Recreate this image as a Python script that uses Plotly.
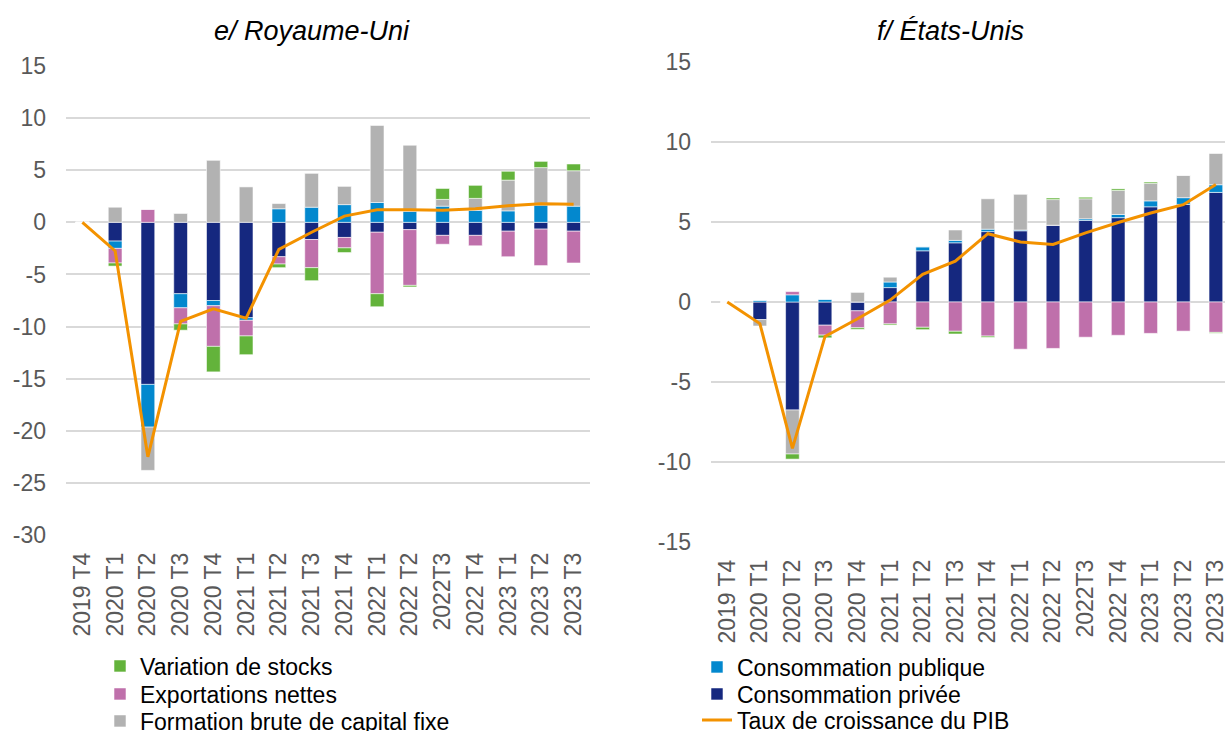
import plotly.graph_objects as go

# Quarters shown on both panels
quarters = ["2019 T4", "2020 T1", "2020 T2", "2020 T3", "2020 T4",
            "2021 T1", "2021 T2", "2021 T3", "2021 T4", "2022 T1",
            "2022 T2", "2022T3", "2022 T4", "2023 T1", "2023 T2", "2023 T3"]

# Y tick values for each panel
uk_ticks = [15, 10, 5, 0, -5, -10, -15, -20, -25, -30]
us_ticks = [15, 10, 5, 0, -5, -10, -15]

# e/ Royaume-Uni : contributions to GDP growth (points)
uk_prive = [0, -1.8, -15.55, -6.85, -7.5, -9.15, -3.3, -1.65, -1.45, -0.95,
            -0.7, -1.25, -1.25, -0.85, -0.65, -0.85]
uk_public = [0, -0.7, -4.1, -1.35, -0.5, -0.25, 1.3, 1.45, 1.7, 1.9,
             1.05, 1.55, 1.15, 1.1, 1.65, 1.55]
uk_fbcf = [0, 1.45, -4.15, 0.85, 5.95, 3.4, 0.5, 3.25, 1.75, 7.4,
           6.35, 0.65, 1.15, 2.95, 3.6, 3.4]
uk_export = [0, -1.4, 1.25, -1.55, -3.9, -1.5, -0.7, -2.7, -1.0, -5.9,
             -5.35, -0.85, -1.0, -2.45, -3.5, -3.05]
uk_stocks = [0, -0.3, 0, -0.6, -2.45, -1.8, -0.35, -1.25, -0.45, -1.25,
             -0.15, 1.05, 1.25, 0.85, 0.6, 0.65]
uk_pib = [0, -2.75, -22.5, -9.5, -8.3, -9.2, -2.6, -0.95, 0.6, 1.2,
          1.2, 1.15, 1.3, 1.6, 1.78, 1.73]

# f/ États-Unis : contributions to GDP growth (points)
us_prive = [0, -1.1, -6.75, -1.45, -0.55, 0.9, 3.2, 3.7, 4.4, 4.45,
            4.8, 5.1, 5.27, 5.95, 6.1, 6.85]
us_public = [0, 0.12, 0.45, 0.17, 0, 0.35, 0.25, 0.15, 0.15, 0.05,
             0, 0.1, 0.2, 0.37, 0.42, 0.48]
us_fbcf = [0, -0.4, -2.75, 0, 0.6, 0.3, 0, 0.65, 1.9, 2.25,
           1.6, 1.25, 1.5, 1.1, 1.4, 1.95]
us_export = [0, 0, 0.2, -0.62, -1.06, -1.37, -1.58, -1.83, -2.13, -2.95,
             -2.9, -2.2, -2.08, -1.96, -1.82, -1.9]
us_stocks = [0, 0, -0.32, -0.17, -0.1, -0.07, -0.15, -0.17, -0.08, 0,
             0.1, 0.1, 0.1, 0.08, 0, -0.05]
us_pib = [0, -1.35, -9.15, -2.15, -1.05, 0.12, 1.73, 2.55, 4.27, 3.75,
          3.6, 4.32, 4.97, 5.56, 6.08, 7.35]

# Colours and fonts
C_PRIVE = "#15287F"
C_PUBLIC = "#0388CE"
C_FBCF = "#B2B2B2"
C_EXPORT = "#BF70AB"
C_STOCKS = "#63B33B"
C_PIB = "#F39200"
FONT = "Liberation Sans, Arial, sans-serif"
TICK_COLOR = "#595959"
GRID = "#D9D9D9"

W, H = 1225, 731

fig = go.Figure()

# name, colour, legend holding the entry (one entry per legend box)
components = [
    ("Consommation privée", C_PRIVE, "legend5"),
    ("Consommation publique", C_PUBLIC, "legend4"),
    ("Formation brute de capital fixe", C_FBCF, "legend3"),
    ("Exportations nettes", C_EXPORT, "legend2"),
    ("Variation de stocks", C_STOCKS, "legend"),
]
panels = [
    ("x", "y", [uk_prive, uk_public, uk_fbcf, uk_export, uk_stocks], uk_pib, True),
    ("x2", "y2", [us_prive, us_public, us_fbcf, us_export, us_stocks], us_pib, False),
]

for xa, ya, series, pib, show in panels:
    for (name, color, leg), vals in zip(components, series):
        fig.add_trace(go.Bar(
            x=quarters, y=vals, name=name, xaxis=xa, yaxis=ya,
            marker=dict(color=color, line=dict(color="rgba(255,255,255,0.7)", width=0.8)),
            width=0.42, showlegend=show, legend=leg,
            hoverinfo="x+y+name",
        ))
    fig.add_trace(go.Scatter(
        x=quarters, y=pib, name="Taux de croissance du PIB", xaxis=xa, yaxis=ya,
        mode="lines", line=dict(color=C_PIB, width=3),
        showlegend=show, legend="legend6",
    ))

def px_x(p):
    return p / W

def px_y(p):
    return 1 - p / H

common_x = dict(
    type="category", showgrid=False, zeroline=False, showline=False,
    ticks="", tickangle=-90, tickfont=dict(family=FONT, size=23, color=TICK_COLOR),
    automargin=False, ticklabelstandoff=12,
)
common_y = dict(
    showgrid=True, gridcolor=GRID, gridwidth=1.5, zeroline=True,
    zerolinecolor=GRID, zerolinewidth=1.5, showline=False, ticks="",
    tickfont=dict(family=FONT, size=23, color=TICK_COLOR), automargin=False,
    ticklabelstandoff=19, tickmode="array",
)

def legend_box(x_px, y_px):
    return dict(
        xref="paper", yref="paper", x=px_x(x_px), y=px_y(y_px),
        xanchor="left", yanchor="middle", bgcolor="rgba(0,0,0,0)",
        font=dict(family=FONT, size=23, color="#000000"),
        itemclick=False, itemdoubleclick=False,
    )

fig.update_layout(
    width=W, height=H,
    margin=dict(l=0, r=0, t=0, b=0, autoexpand=False),
    paper_bgcolor="white", plot_bgcolor="white",
    barmode="relative",
    font=dict(family=FONT, color="#000000"),
    xaxis=dict(common_x, domain=[px_x(66), px_x(590)], range=[-0.5, 15.5], anchor="y"),
    yaxis=dict(common_y, domain=[px_y(535), px_y(66)], range=[-30, 15], anchor="x",
               tickvals=uk_ticks, ticktext=[str(v) for v in uk_ticks]),
    xaxis2=dict(common_x, domain=[px_x(711), 1.0], range=[-0.5, 15.28], anchor="y2"),
    yaxis2=dict(common_y, domain=[px_y(542), px_y(62)], range=[-15, 15], anchor="x2",
                tickvals=us_ticks, ticktext=[str(v) for v in us_ticks]),
    legend=legend_box(100, 666),
    legend2=legend_box(100, 694),
    legend3=legend_box(100, 721),
    legend4=legend_box(697, 667),
    legend5=legend_box(697, 694),
    legend6=legend_box(697, 720),
    annotations=[
        dict(text="<i>e/ Royaume-Uni</i>", xref="paper", yref="paper",
             x=px_x(312), y=px_y(31), showarrow=False, xanchor="center", yanchor="middle",
             font=dict(family=FONT, size=27, color="#000000")),
        dict(text="<i>f/ États-Unis</i>", xref="paper", yref="paper",
             x=px_x(950), y=px_y(31), showarrow=False, xanchor="center", yanchor="middle",
             font=dict(family=FONT, size=27, color="#000000")),
    ],
)

fig.write_html("out.html")
